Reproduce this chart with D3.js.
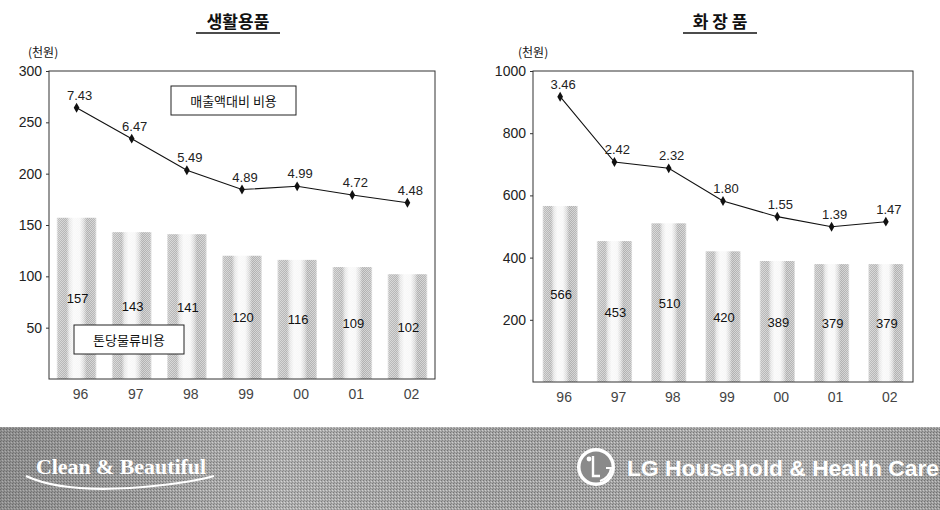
<!DOCTYPE html>
<html><head><meta charset="utf-8">
<script src="https://cdn.jsdelivr.net/npm/d3@7"></script>
<style>
html,body{margin:0;padding:0;background:#fff;}
svg{display:block;}
</style></head>
<body>
<svg id="c" width="940" height="510"></svg>
<script>
const years = ["96","97","98","99","00","01","02"];
const householdCost = [157,143,141,120,116,109,102];
const householdRatio = [7.43,6.47,5.49,4.89,4.99,4.72,4.48];
const cosmeticsCost = [566,453,510,420,389,379,379];
const cosmeticsRatio = [3.46,2.42,2.32,1.80,1.55,1.39,1.47];
const householdTicks = [50,100,150,200,250,300];
const cosmeticsTicks = [200,400,600,800,1000];
const titles = ["생활용품","화 장 품"];
const unitLabel = "(천원)";
const ratioLegend = "매출액대비 비용";
const costLegend = "톤당물류비용";

const svg = d3.select("#c");
const KR = "'Noto Sans CJK KR','Noto Sans',sans-serif";
const NUM = "'Liberation Sans',Arial,sans-serif";

const defs = svg.append("defs");
const grad = defs.append("linearGradient").attr("id","barGrad").attr("x1","0").attr("x2","1").attr("y1","0").attr("y2","0");
[[0,"#e6e6e6"],[0.04,"#bcbcbc"],[0.24,"#b4b4b4"],[0.32,"#e4e4e4"],[0.42,"#f8f8f8"],[0.58,"#f6f6f6"],[0.68,"#d8d8d8"],[0.76,"#b0b0b0"],[0.96,"#b8b8b8"],[1,"#e0e0e0"]]
  .forEach(([o,c])=>grad.append("stop").attr("offset",o).attr("stop-color",c));

// stipple overlay for bars
const sp = defs.append("pattern").attr("id","stip").attr("width",2).attr("height",2).attr("patternUnits","userSpaceOnUse");
sp.append("rect").attr("width",1).attr("height",1).attr("fill","#fff").attr("fill-opacity",0.45);
sp.append("rect").attr("x",1).attr("y",1).attr("width",1).attr("height",1).attr("fill","#fff").attr("fill-opacity",0.45);

// halftone pattern for banner
const pat = defs.append("pattern").attr("id","half").attr("width",3).attr("height",3).attr("patternUnits","userSpaceOnUse");
pat.append("rect").attr("width",3).attr("height",3).attr("fill","#a6a6a6");
pat.append("rect").attr("width",1).attr("height",1).attr("fill","#727272");
pat.append("rect").attr("x",2).attr("y",1).attr("width",1).attr("height",1).attr("fill","#d0d0d0");
pat.append("rect").attr("x",1).attr("y",2).attr("width",1).attr("height",1).attr("fill","#848484");

function drawChart(cfg){
  const g = svg.append("g");
  const x = d3.scaleBand().domain(years).range([cfg.x0,cfg.x1]).paddingInner(cfg.pad).paddingOuter(cfg.pad/2);
  const y = d3.scaleLinear().domain([0,cfg.yMax]).range([cfg.yBottom,cfg.yTop]);
  const y2 = d3.scaleLinear().domain(cfg.rDomain).range(cfg.rRange);

  g.append("text").attr("x",cfg.titleX).attr("y",28).attr("text-anchor","middle")
    .attr("font-family",KR).attr("font-size",17).attr("font-weight",600).attr("fill","#111").text(cfg.title);
  g.append("line").attr("x1",cfg.titleX-cfg.ulHalf).attr("x2",cfg.titleX+cfg.ulHalf).attr("y1",33).attr("y2",33)
    .attr("stroke","#111").attr("stroke-width",1.3);

  g.append("text").attr("x",cfg.unitX).attr("y",57).attr("font-family",KR).attr("font-size",12).attr("fill","#111").text(unitLabel);

  // bars
  g.selectAll("rect.bar").data(cfg.cost).join("rect").attr("class","bar")
    .attr("x",(d,i)=>x(years[i])).attr("width",x.bandwidth())
    .attr("y",d=>y(d)).attr("height",d=>y(0)-y(d)).attr("fill","url(#barGrad)");
  g.selectAll("rect.bars").data(cfg.cost).join("rect").attr("class","bars")
    .attr("x",(d,i)=>x(years[i])).attr("width",x.bandwidth())
    .attr("y",d=>y(d)).attr("height",d=>y(0)-y(d)).attr("fill","url(#stip)");

  // frame
  g.append("rect").attr("x",cfg.x0).attr("y",cfg.yTop).attr("width",cfg.x1-cfg.x0).attr("height",cfg.yBottom-cfg.yTop)
    .attr("fill","none").attr("stroke","#333").attr("stroke-width",1);

  // y axis
  const ay = g.append("g").attr("transform",`translate(${cfg.x0},0)`)
    .call(d3.axisLeft(y).tickValues(cfg.ticks).tickFormat(d3.format("d")).tickSize(3).tickPadding(4));
  ay.select(".domain").remove();
  ay.selectAll("line").attr("stroke","#333");
  ay.selectAll("text").attr("font-family",NUM).attr("font-size",14).attr("fill","#222");

  // x axis
  const ax = g.append("g").attr("transform",`translate(0,${cfg.yBottom})`)
    .call(d3.axisBottom(x).tickSize(0).tickPadding(10));
  ax.select(".domain").remove();
  ax.selectAll("text").attr("font-family",NUM).attr("font-size",14).attr("fill","#444").attr("dx",4);

  // bar labels
  g.selectAll("text.bl").data(cfg.cost).join("text").attr("class","bl")
    .attr("x",(d,i)=>x(years[i])+x.bandwidth()/2+1).attr("y",d=>(y(d)+y(0))/2+5)
    .attr("text-anchor","middle").attr("font-family",NUM).attr("font-size",13).attr("fill","#111").text(d=>d);

  // line
  const cx = (i)=>x(years[i])+x.bandwidth()/2;
  g.append("path").datum(cfg.ratio)
    .attr("d",d3.line().x((d,i)=>cx(i)).y(d=>y2(d)))
    .attr("fill","none").attr("stroke","#111").attr("stroke-width",1.1);
  g.selectAll("path.mk").data(cfg.ratio).join("path").attr("class","mk")
    .attr("transform",(d,i)=>`translate(${cx(i)},${y2(d)})`)
    .attr("d",d3.symbol(d3.symbolDiamond,28)).attr("fill","#111");
  g.selectAll("text.rl").data(cfg.ratio).join("text").attr("class","rl")
    .attr("x",(d,i)=>cx(i)+3).attr("y",d=>y2(d)-8)
    .attr("text-anchor","middle").attr("font-family",NUM).attr("font-size",13).attr("fill","#222")
    .text(d=>d.toFixed(2));

  if(cfg.legends){
    cfg.legends.forEach(L=>{
      g.append("rect").attr("x",L.x).attr("y",L.y).attr("width",L.w).attr("height",L.h)
        .attr("fill","#fff").attr("stroke","#222").attr("stroke-width",1);
      g.append("text").attr("x",L.x+L.w/2).attr("y",L.y+L.h/2+5).attr("text-anchor","middle")
        .attr("font-family",KR).attr("font-size",13).attr("fill","#111").text(L.text);
    });
  }
}

drawChart({title:titles[0],titleX:238,ulHalf:42,unitX:28,x0:49,x1:435,yTop:71,yBottom:379,yMax:300,
  pad:0.28,ticks:householdTicks,cost:householdCost,ratio:householdRatio,
  rDomain:[0,10],rRange:[347,25],
  legends:[{x:171,y:86,w:125,h:29,text:ratioLegend},{x:74,y:325,w:110,h:29,text:costLegend}]});

drawChart({title:titles[1],titleX:720,ulHalf:37,unitX:518,x0:533,x1:913,yTop:71,yBottom:382,yMax:1000,
  pad:0.35,ticks:cosmeticsTicks,cost:cosmeticsCost,ratio:cosmeticsRatio,
  rDomain:[0,5],rRange:[314,0]});

// banner
const b = svg.append("g");
b.append("rect").attr("x",0).attr("y",427).attr("width",940).attr("height",83).attr("fill","url(#half)");
const bg = defs.append("linearGradient").attr("id","bshade").attr("x1","0").attr("x2","1");
[[0,"#555",0.3],[0.15,"#666",0.15],[0.3,"#fff",0.1],[0.55,"#777",0.05],[0.85,"#fff",0.08],[1,"#555",0.1]]
  .forEach(([o,c,a])=>bg.append("stop").attr("offset",o).attr("stop-color",c).attr("stop-opacity",a));
b.append("rect").attr("x",0).attr("y",427).attr("width",940).attr("height",83).attr("fill","url(#bshade)");

b.append("text").attr("x",36).attr("y",474).attr("font-family","'Liberation Serif','DejaVu Serif',serif")
  .attr("font-size",20).attr("font-weight","bold").attr("fill","#fff").attr("textLength",170).attr("lengthAdjust","spacingAndGlyphs").text("Clean & Beautiful");
b.append("path").attr("d","M26,476 Q60,492 130,488 Q185,484 214,476").attr("fill","none").attr("stroke","#fff").attr("stroke-width",2.2);

// LG logo
b.append("circle").attr("cx",596).attr("cy",467).attr("r",19).attr("fill","#fff");
b.append("circle").attr("cx",596).attr("cy",467).attr("r",15.5).attr("fill","#8a8a8a");
b.append("circle").attr("cx",589).attr("cy",459).attr("r",2.4).attr("fill","#fff");
b.append("path").attr("d","M593,456 L593,476 L600,476").attr("fill","none").attr("stroke","#fff").attr("stroke-width",2.4);
b.append("path").attr("d","M606,468 L611,468 A15,15 0 0 1 600,481").attr("fill","none").attr("stroke","#fff").attr("stroke-width",2.2);

b.append("text").attr("x",627).attr("y",476).attr("font-family","'Liberation Sans',Arial,sans-serif").attr("font-weight","bold")
  .attr("font-size",22).attr("fill","#fff").attr("textLength",312).attr("lengthAdjust","spacingAndGlyphs").text("LG Household & Health Care");
</script>
</body></html>
